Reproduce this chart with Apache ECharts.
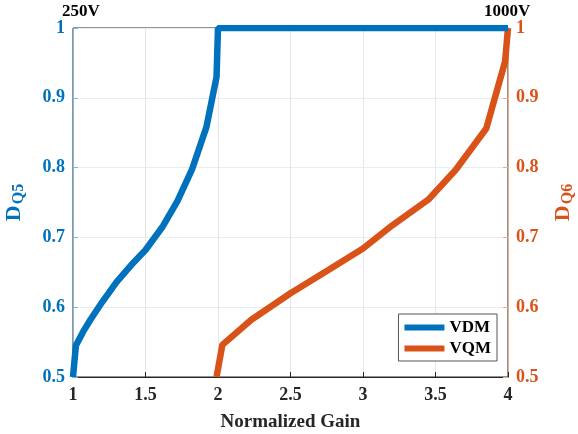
<!DOCTYPE html>
<html>
<head>
<meta charset="utf-8">
<script src="https://cdn.jsdelivr.net/npm/echarts@6/dist/echarts.min.js"></script>
<style>
  html, body { margin: 0; padding: 0; background: #fff; }
  #chart { width: 578px; height: 434px; }
</style>
</head>
<body>
<div id="chart"></div>
<script>
// VDM curve (left axis, D_Q5)
const vdmX = [1.0, 1.02, 1.07, 1.12, 1.2, 1.3, 1.4, 1.5, 1.62, 1.72, 1.82, 1.92, 1.99, 2.0, 4.0]
const vdmY = [0.5, 0.545, 0.565, 0.582, 0.607, 0.636, 0.66, 0.682, 0.716, 0.752, 0.797, 0.858, 0.93, 1.0, 1.0]
// VQM curve (right axis, D_Q6)
const vqmX = [1.99, 2.03, 2.23, 2.5, 2.75, 3.0, 3.2, 3.45, 3.64, 3.85, 3.98, 4.0]
const vqmY = [0.5, 0.546, 0.582, 0.62, 0.652, 0.684, 0.717, 0.754, 0.797, 0.856, 0.952, 1.0]

const blue = '#0072BD'
const orange = '#D95319'
const font = 'Liberation Serif'

const chart = echarts.init(document.getElementById('chart'))

const zip = (xs, ys) => xs.map((x, i) => [x, ys[i]])

chart.setOption({
  animation: false,
  grid: {
    left: 73, right: 70, top: 28, bottom: 57,
    outerBoundsMode: 'none',
    containLabel: false,
    show: true, borderColor: '#262626', borderWidth: 1, backgroundColor: '#fff'
  },
  graphic: [
    { type: 'text', left: 62, top: 3, style: { text: '250V', font: 'bold 17px "Liberation Serif"', fill: '#000' } },
    { type: 'text', left: 484, top: 3, style: { text: '1000V', font: 'bold 17px "Liberation Serif"', fill: '#000' } }
  ],
  legend: {
    right: 81, bottom: 73,
    orient: 'vertical',
    backgroundColor: '#fff',
    borderColor: '#555',
    borderWidth: 1,
    borderRadius: 0,
    padding: [5, 6, 4, 6],
    itemGap: 4,
    itemWidth: 40,
    itemHeight: 6,
    icon: 'rect',
    textStyle: { fontFamily: font, fontWeight: 'bold', fontSize: 17, color: '#000' },
    data: ['VDM', 'VQM']
  },
  xAxis: {
    type: 'value',
    min: 1, max: 4, interval: 0.5,
    name: 'Normalized Gain',
    nameLocation: 'middle',
    nameGap: 36,
    nameTextStyle: { fontFamily: font, fontWeight: 'bold', fontSize: 19, color: '#262626' },
    axisLine: { show: true, lineStyle: { color: '#262626', width: 1 } },
    axisTick: { show: true, inside: true, length: 5, lineStyle: { color: '#262626' } },
    axisLabel: { fontFamily: font, fontWeight: 'bold', fontSize: 18, color: '#262626', margin: 9 },
    splitLine: { show: true, lineStyle: { color: '#e6e6e6', width: 1 } }
  },
  yAxis: [
    {
      type: 'value',
      position: 'left',
      min: 0.5, max: 1, interval: 0.1,
      name: '{d|D}{s|Q5}',
      nameLocation: 'middle',
      nameRotate: 90,
      nameGap: 46,
      nameTextStyle: {
        color: blue,
        rich: {
          d: { fontFamily: font, fontWeight: 'bold', fontSize: 22, color: blue },
          s: { fontFamily: font, fontWeight: 'bold', fontSize: 16, color: blue, padding: [10, 0, 0, 1] }
        }
      },
      axisLine: { show: true, lineStyle: { color: '#80b8de', width: 1 } },
      axisTick: { show: true, inside: true, length: 5, lineStyle: { color: '#80b8de' } },
      axisLabel: { fontFamily: font, fontWeight: 'bold', fontSize: 18, color: blue, margin: 8 },
      splitLine: { show: true, lineStyle: { color: '#e6eef5', width: 1 } }
    },
    {
      type: 'value',
      position: 'right',
      min: 0.5, max: 1, interval: 0.1,
      name: '{d|D}{s|Q6}',
      nameLocation: 'middle',
      nameRotate: 90,
      nameGap: 42,
      nameTextStyle: {
        color: orange,
        rich: {
          d: { fontFamily: font, fontWeight: 'bold', fontSize: 22, color: orange },
          s: { fontFamily: font, fontWeight: 'bold', fontSize: 16, color: orange, padding: [10, 0, 0, 1] }
        }
      },
      axisLine: { show: true, lineStyle: { color: '#eca98c', width: 1 } },
      axisTick: { show: true, inside: true, length: 5, lineStyle: { color: '#eca98c' } },
      axisLabel: { fontFamily: font, fontWeight: 'bold', fontSize: 18, color: orange, margin: 8 },
      splitLine: { show: false }
    }
  ],
  series: [
    {
      name: 'VDM',
      type: 'line',
      yAxisIndex: 0,
      data: zip(vdmX, vdmY),
      showSymbol: false,
      symbol: 'none',
      itemStyle: { color: blue },
      lineStyle: { color: blue, width: 6.5 },
      z: 3
    },
    {
      name: 'VQM',
      type: 'line',
      yAxisIndex: 1,
      data: zip(vqmX, vqmY),
      showSymbol: false,
      symbol: 'none',
      itemStyle: { color: orange },
      lineStyle: { color: orange, width: 6.5 },
      z: 2
    }
  ]
})

window.addEventListener('resize', () => {
  chart.resize()
})
</script>
</body>
</html>
